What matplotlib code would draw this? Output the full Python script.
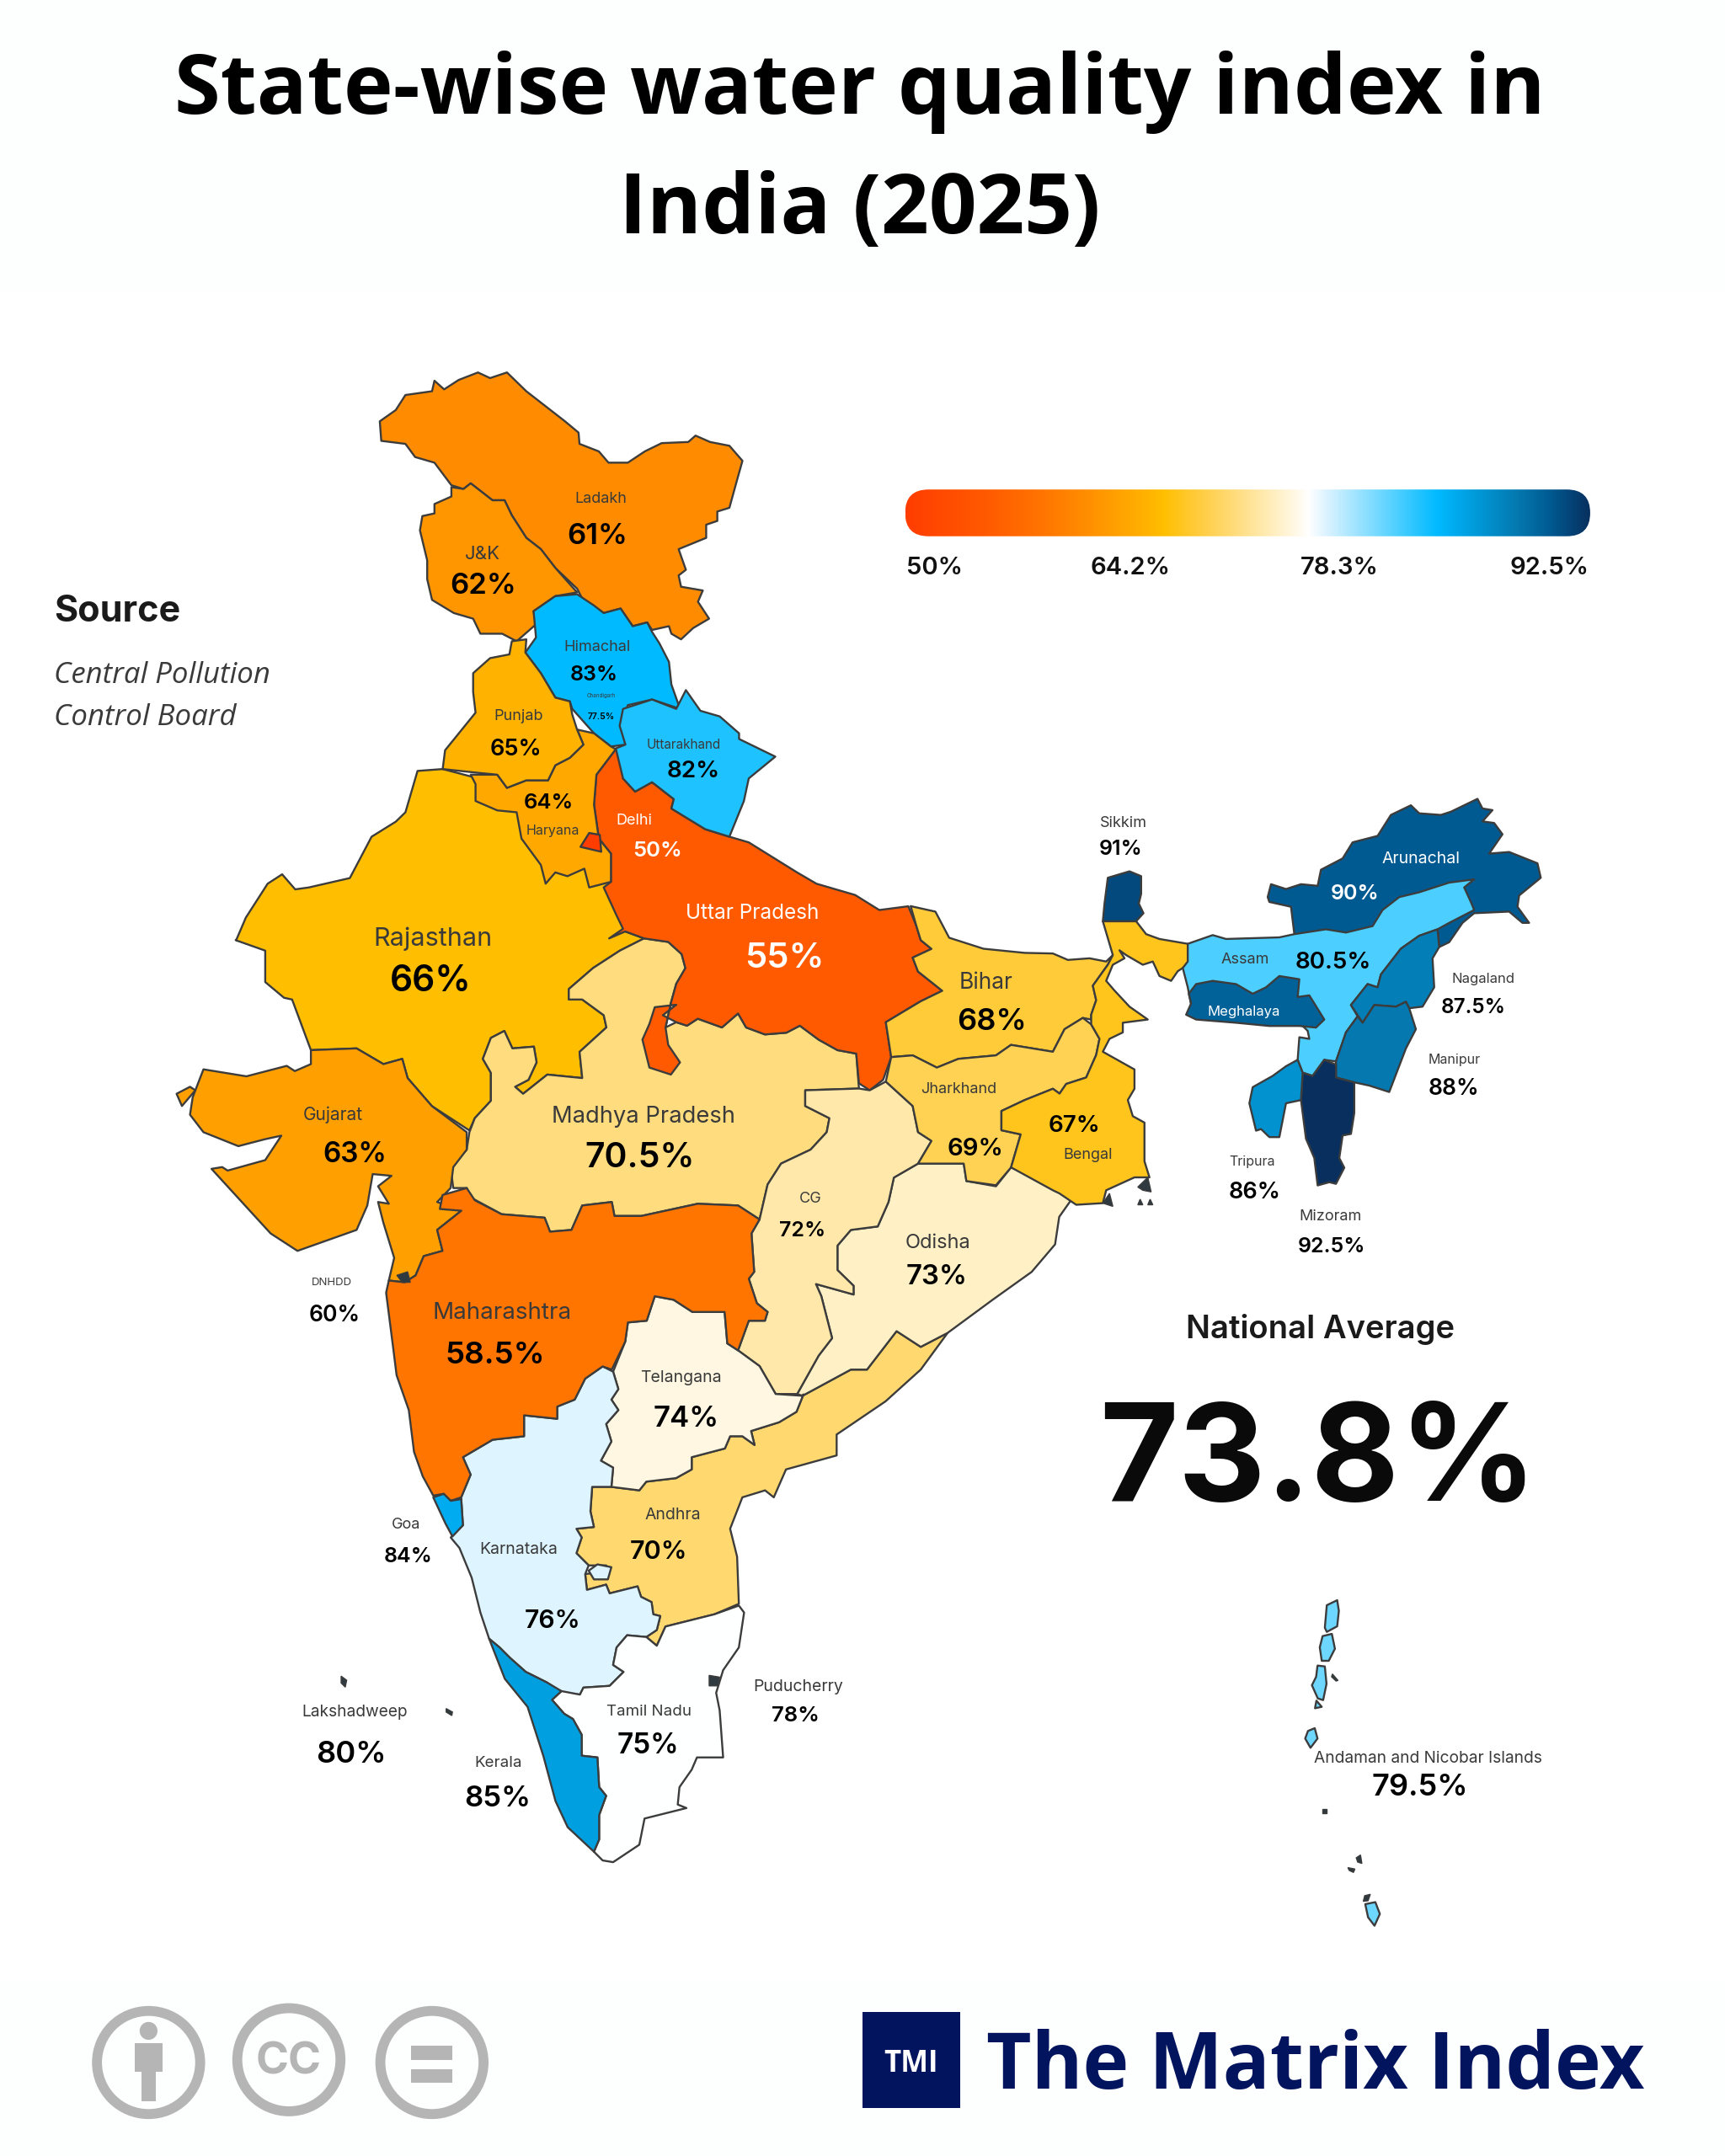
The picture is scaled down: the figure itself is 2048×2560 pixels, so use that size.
import matplotlib
matplotlib.use('Agg')
import matplotlib.pyplot as plt
import numpy as np
from matplotlib.colors import LinearSegmentedColormap, Normalize
from matplotlib.patches import Polygon, Circle, Rectangle, FancyBboxPatch

# values printed on the map
NAMES = ['Ladakh', 'J&K', 'Himachal', 'Chandigarh', 'Punjab', 'Uttarakhand', 'Haryana', 'Delhi',
         'Uttar Pradesh', 'Rajasthan', 'Bihar', 'Jharkhand', 'Bengal', 'Gujarat', 'Madhya Pradesh',
         'CG', 'Odisha', 'DNHDD', 'Maharashtra', 'Telangana', 'Andhra', 'Goa', 'Karnataka',
         'Lakshadweep', 'Tamil Nadu', 'Kerala', 'Puducherry', 'Sikkim', 'Arunachal', 'Assam',
         'Meghalaya', 'Nagaland', 'Manipur', 'Tripura', 'Mizoram', 'Andaman and Nicobar Islands']
VALUES = [61, 62, 83, 77.5, 65, 82, 64, 50, 55, 66, 68, 69, 67, 63, 70.5, 72, 73, 60, 58.5, 74, 70,
          84, 76, 80, 75, 85, 78, 91, 90, 80.5, 89.5, 87.5, 88, 86, 92.5, 79.5]
SCALE_TICKS = [50, 64.2, 78.3, 92.5]
NATIONAL_AVERAGE = 73.8

# legend ramp
RAMP_VALUES = [50, 55, 58.5, 61, 63, 65, 66, 68, 70, 72, 74, 75, 76, 80.5, 83, 85, 88, 90, 92.5]
RAMP_COLORS = ['#FF3D00', '#FF5A00', '#FF7500', '#FF8C00', '#FFA000', '#FFB300', '#FFBF00', '#FFCB3A',
               '#FFD970', '#FFE8A8', '#FFF7E0', '#FFFFFF', '#DFF4FF', '#4DCFFF', '#00BAFF', '#009FE0',
               '#0478AF', '#005A92', '#082F5E']


# outlines were traced on crops, each crop has its own frame
def z1(pts):
    return [(122.5 + .3515 * x, 257.2 + .2734 * y) for x, y in pts]

def z2(pts):
    return [(122.5 + .3906 * x, 673.6 + .2539 * y) for x, y in pts]

def z3(pts):
    return [(765.4 + .2421 * x, 563.4 + .2343 * y) for x, y in pts]

def z4(pts):
    return [(275.6 + .2539 * x, 979.8 + .2539 * y) for x, y in pts]

def z7(pts):
    return [(918.6 + .2041 * x, 1145 + .2041 * y) for x, y in pts]


# painter's order: later states sit on top of earlier ones
SHAPES = {}
SHAPES['Rajasthan'] = [z1([(567, 1105), (515, 1110), (490, 1220), (470, 1245), (420, 1285), (375, 1395), (290, 1420),
                           (262, 1425), (235, 1385), (205, 1410), (160, 1500), (140, 1560)]) +
                       z2([(125, 40), (180, 70), (180, 160), (215, 205), (230, 210), (265, 355), (350, 350), (400, 395),
                           (435, 380), (445, 435), (490, 515), (560, 585), (570, 550), (600, 500), (600, 420), (585, 380),
                           (600, 320), (625, 300), (640, 350), (680, 345), (685, 390), (670, 440), (645, 460), (660, 480),
                           (705, 425), (770, 435), (765, 360), (815, 290), (810, 255), (770, 210), (745, 210), (745, 180),
                           (790, 120), (840, 70), (885, 35), (850, 15)]) +
                       z1([(915, 1405), (800, 1300), (700, 1150)])]
SHAPES['Madhya Pradesh'] = [z2([(560, 590), (570, 550), (600, 500), (600, 420), (585, 380), (600, 320), (625, 300), (640, 350),
                                (680, 345), (685, 390), (670, 440), (645, 460), (660, 480), (705, 425), (770, 435), (765, 360),
                                (815, 290), (810, 255), (770, 210), (745, 210), (745, 180), (790, 120), (840, 70), (885, 35),
                                (930, 45), (955, 80), (962, 120), (945, 165), (935, 220), (925, 290), (945, 275), (965, 285),
                                (985, 265), (1030, 290), (1060, 250), (1075, 290), (1110, 310), (1150, 305), (1175, 285),
                                (1210, 325), (1245, 355), (1280, 365), (1285, 465), (1185, 470), (1185, 515), (1230, 550),
                                (1225, 590), (1195, 640), (1140, 680), (1115, 740), (1100, 840), (1060, 800), (985, 795),
                                (940, 810), (880, 830), (830, 830), (825, 790), (770, 800), (750, 870), (710, 875), (700, 835),
                                (620, 825), (560, 775), (555, 750), (530, 750), (525, 690), (555, 640)])]
SHAPES['Uttar Pradesh'] = [z1([(925, 1052), (950, 1080), (940, 1130), (965, 1165), (1000, 1140), (1045, 1185), (1040, 1210),
                               (1110, 1265), (1160, 1285), (1200, 1300), (1300, 1380), (1340, 1410), (1420, 1440), (1470, 1480),
                               (1530, 1470)]) +
                           z2([(1392, 0), (1400, 40), (1420, 65), (1385, 90), (1395, 130), (1440, 185), (1400, 215), (1335, 275),
                               (1345, 375), (1330, 440), (1305, 470), (1285, 450), (1280, 365), (1245, 355), (1210, 325),
                               (1175, 285), (1150, 305), (1110, 310), (1075, 290), (1060, 250), (1030, 290), (985, 265),
                               (965, 285), (945, 275), (920, 255), (945, 225), (905, 232), (895, 280), (882, 325), (895, 405),
                               (935, 425), (952, 390), (930, 340), (925, 290), (935, 220), (945, 165), (962, 120), (955, 80),
                               (930, 45), (885, 35), (850, 15), (820, 35)]) +
                           z1([(940, 1530), (925, 1490), (900, 1420), (915, 1405), (915, 1330), (890, 1290), (880, 1200), (885, 1120)])]
SHAPES['Ladakh'] = [z1([(437, 180), (470, 150), (490, 110), (545, 100), (550, 72), (570, 95), (600, 70), (640, 50), (665, 65),
                        (700, 50), (740, 100), (790, 150), (820, 180), (848, 210), (850, 240), (890, 260), (910, 290), (950, 290),
                        (985, 260), (1020, 238), (1075, 235), (1090, 218), (1120, 235), (1160, 245), (1187, 285), (1175, 340),
                        (1160, 410), (1135, 420), (1135, 445), (1112, 455), (1112, 490), (1055, 520), (1070, 575), (1055, 590),
                        (1060, 620), (1105, 630), (1095, 660), (1118, 705), (1085, 730), (1060, 760), (1040, 745), (1035, 725),
                        (1000, 735), (990, 715), (960, 725), (935, 678), (900, 690), (855, 650), (845, 625), (800, 570), (770, 520),
                        (740, 490), (710, 430), (695, 390), (670, 390), (625, 345), (610, 360), (585, 350), (550, 290), (510, 275),
                        (490, 240), (440, 232)])]
SHAPES['J&K'] = [z1([(585, 355), (610, 360), (625, 345), (670, 390), (695, 390), (710, 430), (740, 490), (770, 520), (800, 570),
                     (845, 635), (800, 645), (755, 685), (760, 720), (720, 765), (690, 745), (645, 745), (630, 705), (590, 690),
                     (545, 655), (535, 600), (535, 550), (520, 470), (525, 432), (550, 425), (550, 400), (585, 380)])]
SHAPES['Himachal'] = [z1([(755, 685), (800, 645), (845, 640), (880, 670), (900, 690), (935, 678), (960, 725), (990, 715), (1000, 740),
                          (1015, 770), (1035, 820), (1040, 880), (1058, 945), (1000, 920), (950, 935), (935, 990), (945, 1040),
                          (915, 1045), (880, 1010), (835, 945), (830, 925), (800, 915), (770, 850), (738, 795), (760, 755)])]
SHAPES['Uttarakhand'] = [z1([(940, 945), (1000, 920), (1050, 945), (1070, 895), (1100, 950), (1140, 965), (1180, 1010), (1180, 1025),
                             (1255, 1072), (1200, 1130), (1190, 1190), (1160, 1285), (1110, 1265), (1040, 1210), (1045, 1185),
                             (1000, 1140), (965, 1165), (940, 1130), (925, 1050), (945, 1040), (933, 990)])]
SHAPES['Haryana'] = [z1([(625, 1120), (680, 1120), (700, 1155), (740, 1135), (785, 1135), (800, 1095), (830, 1075), (858, 1040),
                         (845, 1000), (880, 1010), (915, 1045), (925, 1052), (885, 1120), (880, 1200), (890, 1290), (915, 1330),
                         (915, 1405), (870, 1420), (860, 1370), (825, 1390), (800, 1380), (780, 1410), (770, 1360), (730, 1290),
                         (720, 1220), (680, 1215), (635, 1190), (635, 1145)])]
SHAPES['Punjab'] = [z1([(710, 765), (740, 760), (738, 795), (770, 850), (800, 915), (830, 925), (835, 960), (845, 1000), (858, 1040),
                        (830, 1075), (800, 1095), (785, 1135), (740, 1135), (700, 1155), (680, 1120), (640, 1115), (567, 1105),
                        (572, 1055), (635, 955), (630, 900), (630, 850), (665, 810), (705, 800)])]
SHAPES['Delhi'] = [z1([(870, 1275), (892, 1280), (895, 1325), (852, 1312)])]
SHAPES['Gujarat'] = [z2([(265, 355), (350, 350), (400, 395), (435, 380), (445, 435), (490, 515), (555, 590), (555, 640), (530, 690),
                         (525, 750), (500, 790), (545, 815), (500, 870), (510, 930), (475, 945), (460, 1000), (440, 1020), (410, 1015),
                         (420, 950), (400, 850), (390, 790), (410, 795), (390, 745), (415, 715), (380, 710), (370, 800), (350, 870),
                         (240, 930), (190, 880), (80, 695), (100, 690), (110, 700), (180, 670), (210, 600), (180, 610), (130, 630),
                         (65, 590), (40, 540), (45, 490), (65, 410), (145, 430), (220, 400), (235, 415), (265, 395)]),
                     z2([(15, 480), (40, 460), (50, 470), (25, 515)])]
SHAPES['Andhra'] = [z4([(610, 400), (665, 400), (745, 410), (765, 385), (850, 375), (895, 350), (895, 315), (990, 290), (1005, 255),
                        (1040, 255), (1075, 280), (1065, 240), (1145, 215), (1195, 185), (1215, 135)]) +
                    z2([(1180, 1345), (1270, 1270), (1300, 1270), (1355, 1160), (1400, 1205), (1450, 1165), (1400, 1270)]) +
                    z4([(1450, 155), (1310, 250), (1310, 310), (1165, 350), (1130, 430), (1105, 410), (1040, 430), (1005, 520),
                        (1025, 600), (1030, 735), (960, 765), (920, 775), (820, 800), (795, 855), (765, 830), (795, 810), (805, 770),
                        (785, 765), (780, 730), (750, 715), (740, 685), (660, 705), (650, 680), (595, 695), (590, 650), (660, 640),
                        (650, 625), (600, 625), (565, 590), (580, 545), (565, 520), (615, 515), (605, 470)])]
SHAPES['Odisha'] = [z2([(1395, 680), (1480, 680), (1485, 730), (1540, 745)]) +
                    [(735, 849), (760, 860), (782, 868), (770, 885), (767, 905), (750, 925), (722, 945)] +
                    z2([(1450, 1165), (1400, 1205), (1355, 1160), (1300, 1270), (1270, 1270), (1180, 1345), (1170, 1340), (1210, 1230),
                        (1235, 1180), (1215, 1060), (1205, 1025), (1275, 1055), (1275, 1030), (1245, 985), (1245, 915), (1270, 870),
                        (1320, 860), (1340, 790), (1350, 720)])]
SHAPES['CG'] = [z2([(1185, 470), (1285, 465), (1305, 470), (1335, 445), (1385, 515), (1395, 590), (1420, 615), (1395, 680), (1350, 720),
                    (1340, 790), (1320, 860), (1270, 870), (1245, 915), (1245, 985), (1275, 1030), (1275, 1055), (1205, 1025),
                    (1215, 1060), (1235, 1180), (1210, 1230), (1170, 1340), (1130, 1340), (1100, 1260), (1060, 1215), (1080, 1130),
                    (1110, 1130), (1115, 1105), (1095, 1080), (1080, 1010), (1090, 990), (1085, 880), (1100, 840), (1115, 740),
                    (1140, 680), (1195, 640), (1225, 590), (1230, 550), (1185, 515)])]
SHAPES['Telangana'] = [z2([(905, 1060), (940, 1070), (975, 1105), (1035, 1105), (1040, 1195), (1060, 1215), (1100, 1260), (1130, 1340),
                           (1180, 1345)]) +
                       z4([(1215, 135), (1195, 185), (1145, 215), (1065, 240), (1075, 280), (1040, 255), (1005, 255), (990, 290),
                           (895, 315), (895, 350), (850, 375), (765, 385), (745, 410), (665, 400), (670, 345), (635, 325), (665, 270),
                           (650, 220), (685, 180), (665, 150), (685, 120), (670, 70)]) +
                       z2([(850, 1190), (855, 1135), (890, 1130)])]
SHAPES['Karnataka'] = [z4([(240, 315), (325, 265), (415, 255), (415, 195), (510, 205), (510, 170), (560, 150), (590, 90), (640, 55),
                           (670, 70), (685, 120), (665, 150), (685, 180), (650, 220), (665, 270), (635, 325), (670, 345), (665, 400),
                           (610, 400), (605, 470), (615, 515), (565, 520), (580, 545), (565, 590), (600, 625), (590, 650), (595, 695),
                           (650, 680), (660, 705), (740, 685), (750, 715), (780, 730), (785, 765), (805, 770), (795, 810), (765, 830),
                           (710, 825), (680, 860), (670, 910), (700, 930), (660, 970), (585, 975), (575, 995), (525, 990), (480, 960),
                           (420, 930), (375, 890), (345, 860), (315, 835), (290, 760), (265, 660), (230, 575), (205, 545), (240, 510),
                           (235, 430), (262, 365)]),
                       z4([(600, 640), (625, 622), (665, 630), (655, 665), (615, 665)])]
SHAPES['Maharashtra'] = [z2([(510, 770), (555, 750), (570, 785), (620, 825), (700, 835), (710, 875), (750, 870), (770, 800), (825, 790),
                             (830, 830), (880, 830), (940, 810), (985, 795), (1060, 800), (1100, 840), (1085, 880), (1090, 990),
                             (1080, 1010), (1095, 1080), (1115, 1105), (1110, 1130), (1080, 1130), (1060, 1215), (1040, 1195),
                             (1035, 1105), (975, 1105), (940, 1070), (905, 1060), (890, 1130), (855, 1135), (850, 1190), (825, 1270)]) +
                         z4([(640, 55), (590, 90), (560, 150), (510, 170), (510, 205), (415, 195), (415, 255), (325, 265), (240, 315),
                             (262, 365), (235, 430), (205, 440), (185, 420), (155, 425), (125, 370), (100, 300), (85, 180), (50, 80),
                             (40, 0)]) +
                         z2([(405, 1050), (410, 1015), (440, 1020), (460, 1000), (475, 945), (510, 930), (500, 870), (545, 815), (505, 810)])]
SHAPES['Goa'] = [z4([(155, 430), (185, 420), (205, 440), (235, 435), (240, 510), (210, 542), (190, 505)])]
SHAPES['Tamil Nadu'] = [z4([(495, 1010), (522, 985), (575, 995), (585, 975), (660, 970), (700, 930), (670, 910), (680, 860), (710, 825),
                            (765, 830), (795, 855), (820, 800), (920, 775), (960, 765), (1030, 740), (1045, 760), (1030, 860), (985, 925),
                            (965, 990), (975, 1040), (985, 1175), (910, 1175), (895, 1210), (860, 1260), (855, 1310), (880, 1320),
                            (760, 1350), (745, 1425), (670, 1475), (640, 1470), (615, 1445), (630, 1410), (630, 1340), (650, 1285),
                            (630, 1260), (625, 1175), (580, 1170), (580, 1110), (555, 1065), (530, 1050)])]
SHAPES['Kerala'] = [z4([(315, 835), (345, 860), (375, 890), (420, 930), (480, 960), (522, 985), (495, 1010), (530, 1050), (555, 1065),
                        (580, 1110), (580, 1170), (625, 1175), (630, 1260), (650, 1285), (630, 1340), (630, 1410), (615, 1445),
                        (540, 1375), (505, 1300), (470, 1170), (425, 1030), (360, 950)])]
SHAPES['Bihar'] = [z2([(1335, 275), (1400, 215), (1440, 185), (1395, 130), (1385, 90), (1420, 65), (1400, 40), (1392, 0)]) +
                   [(662, 659), (680, 663), (690, 682), (715, 690), (745, 693)] +
                   z3([(0, 555), (45, 575), (110, 570), (160, 580), (180, 560), (165, 590), (120, 655), (130, 700), (115, 745),
                       (115, 760), (90, 755), (35, 790), (15, 830), (0, 860)]) +
                   z2([(1568, 340), (1540, 370), (1470, 380), (1430, 405), (1385, 370), (1345, 375)])]
SHAPES['Jharkhand'] = [z2([(1345, 375), (1385, 370), (1430, 405), (1470, 380), (1540, 370), (1568, 340)]) +
                       z3([(0, 860), (15, 830), (35, 790), (90, 755), (115, 775), (140, 820), (130, 870), (100, 940), (40, 960),
                           (20, 990), (0, 975)]) +
                       [(745, 800), (728, 808), (728, 822), (742, 825), (735, 849), (724, 862)] +
                       z2([(1485, 730), (1480, 680), (1395, 680), (1420, 615), (1395, 590), (1385, 515), (1335, 445)])]
SHAPES['Bengal'] = [z3([(150, 455), (250, 455), (280, 495), (320, 510), (405, 525), (405, 590), (375, 610), (355, 640), (320, 625),
                        (300, 580), (270, 590), (220, 560), (200, 545), (215, 570), (180, 590), (160, 640), (185, 670), (230, 720),
                        (285, 760), (210, 770), (210, 800), (170, 820), (150, 860), (245, 915), (245, 975), (225, 1010), (240, 1060),
                        (275, 1080), (275, 1200), (290, 1250), (245, 1250), (160, 1290), (150, 1330), (70, 1335), (20, 1300), (0, 1290)]) +
                    [(735, 849), (742, 825), (728, 822), (728, 808), (745, 800)] +
                    z3([(0, 975), (20, 990), (40, 960), (100, 940), (130, 870), (140, 820), (115, 775), (115, 745), (130, 700),
                        (120, 655), (165, 590), (180, 560)])]
SHAPES['Sikkim'] = [z3([(165, 320), (230, 300), (265, 315), (265, 370), (258, 400), (272, 430), (250, 455), (150, 455), (155, 400)])]
SHAPES['Arunachal'] = [z3([(645, 380), (655, 340), (700, 355), (745, 340), (795, 345), (805, 295), (870, 260), (900, 210), (975, 190),
                           (1015, 125), (1075, 95), (1100, 120), (1165, 125), (1195, 115), (1275, 75), (1290, 105), (1320, 110),
                           (1290, 145), (1325, 150), (1350, 185), (1310, 245), (1370, 240), (1455, 275), (1465, 320), (1400, 375),
                           (1395, 410), (1430, 460), (1410, 460), (1370, 425), (1265, 430), (1230, 460), (1190, 520), (1160, 535),
                           (1155, 480), (1100, 500), (1000, 500), (725, 495), (715, 410), (650, 395)])]
SHAPES['Assam'] = [z3([(405, 525), (480, 498), (520, 510), (680, 505), (725, 495), (820, 480), (880, 490), (960, 470), (990, 420),
                       (1040, 380), (1100, 365), (1190, 335), (1265, 325), (1235, 350), (1255, 395), (1265, 420), (1190, 460), (1155, 480),
                       (1100, 500), (1045, 540), (985, 620), (975, 660), (945, 650), (895, 715), (915, 750), (880, 800), (850, 890),
                       (815, 885), (780, 935), (750, 925), (735, 885), (740, 815), (770, 820), (765, 795), (740, 770), (420, 740),
                       (405, 660), (390, 600), (405, 580)])]
SHAPES['Meghalaya'] = [z3([(400, 745), (415, 710), (408, 680), (430, 650), (480, 640), (550, 650), (600, 680), (640, 660), (680, 625),
                           (740, 635), (735, 690), (770, 685), (815, 760), (790, 785), (740, 780), (650, 780), (550, 770), (430, 760)])]
SHAPES['Nagaland'] = [z3([(895, 715), (945, 650), (975, 660), (985, 620), (1045, 540), (1100, 500), (1155, 480), (1160, 535), (1140, 570),
                          (1145, 660), (1110, 720), (1070, 725), (1060, 705), (1030, 720), (965, 715), (930, 770)])]
SHAPES['Manipur'] = [z3([(930, 770), (965, 715), (1030, 720), (1060, 705), (1070, 725), (1090, 790), (1060, 850), (1010, 985), (950, 965),
                         (905, 955), (850, 940), (850, 890), (880, 800), (915, 750)])]
SHAPES['Mizoram'] = [z3([(750, 925), (780, 935), (815, 885), (850, 900), (850, 940), (905, 955), (905, 1050), (895, 1115), (870, 1120),
                         (860, 1190), (875, 1220), (850, 1270), (830, 1265), (795, 1275), (785, 1190), (760, 1130), (745, 1010)])]
SHAPES['Tripura'] = [z3([(735, 885), (750, 925), (745, 1010), (700, 1020), (680, 1125), (650, 1125), (625, 1100), (610, 1105), (590, 1020),
                         (600, 970), (660, 935), (700, 905)])]
SHAPES['Andaman and Nicobar Islands'] = [
    z7([(225, 110), (262, 92), (268, 130), (262, 185), (225, 205), (218, 190)]),
    z7([(210, 220), (243, 212), (254, 265), (232, 308), (207, 308), (200, 260)]),
    z7([(192, 325), (218, 328), (224, 390), (212, 448), (193, 442), (172, 395), (187, 365)]),
    z7([(188, 450), (207, 472), (183, 477)]),
    z7([(158, 558), (182, 548), (192, 585), (167, 618), (148, 585)]),
    z7([(362, 1175), (398, 1168), (414, 1210), (395, 1252), (372, 1222)]),
]

# tiny bits that are nearly all outline
SPECKS = [z4([(945, 940), (975, 945), (970, 970), (945, 970)]), z4([(192, 1035), (210, 1045), (208, 1055), (192, 1045)]),
          [(248, 1219), (252, 1222), (251, 1227), (248, 1224)], z7([(245, 355), (265, 378), (258, 380), (242, 365)]),
          z7([(300, 1045), (325, 1050), (320, 1062), (305, 1055)]), z7([(330, 1010), (345, 1000), (350, 1030), (335, 1025)]),
          z7([(360, 1145), (380, 1140), (372, 1163), (355, 1165)]), z7([(208, 835), (225, 835), (225, 852), (208, 852)]),
          z3([(255, 1335), (262, 1318), (270, 1335)]), z3([(285, 1335), (292, 1318), (300, 1335)]),
          z3([(150, 1330), (170, 1300), (180, 1340)]), z3([(255, 1280), (285, 1250), (295, 1295), (270, 1290)]),
          z2([(425, 1000), (445, 990), (450, 1020), (435, 1020)])]

# name position, value position, name size, value size, text colour
LABELS = {
    'Ladakh': ((437, 361), (434, 388), 13, 25, 'k'), 'J&K': ((351, 401), (351, 424), 16, 25, 'k'),
    'Himachal': ((434, 469), (432, 489), 13, 18, 'k'), 'Chandigarh': ((437, 504), (437, 519), 4.5, 7.5, 'k'),
    'Punjab': ((377, 519), (375, 543), 13, 19.5, 'k'), 'Uttarakhand': ((497, 540), (504, 559), 11, 20, 'k'),
    'Haryana': ((402, 602), (399, 582), 11.5, 18.5, 'k'), 'Delhi': ((461, 595), (478, 617), 13, 18.5, 'w'),
    'Uttar Pradesh': ((547, 662), (570, 695), 17.5, 30, 'w'), 'Rajasthan': ((315, 681), (313, 712), 22, 30.5, 'k'),
    'Bihar': ((717, 713), (721, 741), 19, 26, 'k'), 'Jharkhand': ((697, 790), (709, 834), 13, 21, 'k'),
    'Bengal': ((791, 838), (781, 817), 13, 20, 'k'), 'Gujarat': ((242, 809), (258, 838), 15, 24, 'k'),
    'Madhya Pradesh': ((468, 810), (465, 840), 19.7, 29.5, 'k'), 'CG': ((589, 870), (583, 893), 13, 18, 'k'),
    'Odisha': ((682, 902), (681, 927), 17, 23.7, 'k'), 'DNHDD': ((241, 931), (243, 955), 9.5, 19, 'k'),
    'Maharashtra': ((365, 953), (360, 984), 20, 26.5, 'k'), 'Telangana': ((495, 1000), (499, 1030), 14, 25, 'k'),
    'Andhra': ((489, 1100), (479, 1127), 14, 22, 'k'), 'Goa': ((295, 1107), (297, 1130), 13, 18, 'k'),
    'Karnataka': ((377, 1125), (402, 1177), 14, 21.6, 'k'), 'Lakshadweep': ((258, 1243), (255, 1274), 13.8, 26, 'k'),
    'Tamil Nadu': ((472, 1243), (471, 1268), 13.5, 24, 'k'), 'Kerala': ((362, 1280), (362, 1306), 13.5, 25, 'k'),
    'Puducherry': ((580, 1225), (578, 1246), 14, 18.5, 'k'), 'Sikkim': ((817, 597), (815, 616), 13, 18, 'k'),
    'Arunachal': ((1033, 623), (985, 648), 14, 18, 'w'), 'Assam': ((905, 696), (969, 698), 13, 20, 'k'),
    'Meghalaya': ((904, 734), (892, 764), 12, 17.5, 'w'), 'Nagaland': ((1078, 710), (1071, 731), 12, 17.5, 'k'),
    'Manipur': ((1057, 769), (1057, 790), 11.5, 19, 'k'), 'Tripura': ((910, 843), (912, 865), 11.5, 19.5, 'k'),
    'Mizoram': ((967, 883), (968, 905), 13, 18, 'k'), 'Andaman and Nicobar Islands': ((1038, 1277), (1032, 1298), 13.8, 26, 'k'),
}

EDGE = '#3c3c3c'
NAVY = '#02145E'
GREY = '#B5B5B5'
HEAD_FONT = 'Open Sans'
plt.rcParams['font.family'] = ['Inter', 'DejaVu Sans']

fig = plt.figure(figsize=(20.48, 25.6), dpi=100, facecolor='#FDFEFE')
ax = fig.add_axes([0, 0, 1, 1])
ax.set_xlim(0, 1254)
ax.set_ylim(1568, 0)
ax.axis('off')
ax.add_patch(Rectangle((0, 212), 1254, 1228, fc='white', ec='none', zorder=0))

cmap = LinearSegmentedColormap.from_list('wqi', [((v - 50) / 42.5, c) for v, c in zip(RAMP_VALUES, RAMP_COLORS)], N=512)
norm = Normalize(50, 92.5)

value_of = dict(zip(NAMES, VALUES))
for z, (name, parts) in enumerate(SHAPES.items()):
    for pts in parts:
        ax.add_patch(Polygon(pts, closed=True, fc=cmap(norm(value_of[name])), ec=EDGE, lw=1.7,
                             joinstyle='round', zorder=2 + z * .01))
for pts in SPECKS:
    ax.add_patch(Polygon(pts, closed=True, fc='#2e3a40', ec=EDGE, lw=1, zorder=3))

for name, value in zip(NAMES, VALUES):
    npos, vpos, ns, vs, col = LABELS[name]
    name_col = col if col == 'w' else '#3a3a3a'
    ax.text(npos[0], npos[1] + 2, name, fontsize=ns, color=name_col, ha='center', va='center', zorder=5)
    ax.text(vpos[0], vpos[1] + 2, f'{value:g}%', fontsize=vs, color=col, ha='center', va='center',
            fontweight='semibold', zorder=5)

# scale bar
grad = np.linspace(0, 1, 512).reshape(1, -1)
im = ax.imshow(grad, cmap=cmap, extent=(658, 1156, 390, 356), aspect='auto', zorder=4)
clip = FancyBboxPatch((675, 356), 464, 34, boxstyle='round,pad=0,rounding_size=17', mutation_aspect=1,
                      fc='none', ec='none', transform=ax.transData)
clip.set_boxstyle('round,pad=17,rounding_size=17')
clip.set_bounds(675, 373, 464, 0)
ax.add_patch(clip)
im.set_clip_path(clip)
ax.set_xlim(0, 1254)
ax.set_ylim(1568, 0)
for tick, (x, ha) in zip(SCALE_TICKS, [(659, 'left'), (822, 'center'), (974, 'center'), (1155, 'right')]):
    ax.text(x, 413, f'{tick:g}%', fontsize=21, fontweight='semibold', color='#111111', ha=ha, va='center')

ax.text(625, 67, 'State-wise water quality index in', fontsize=71.6, fontweight='bold', family=HEAD_FONT,
        ha='center', va='center', color='black')
ax.text(625, 154, 'India (2025)', fontsize=71.6, fontweight='bold', family=HEAD_FONT,
        ha='center', va='center', color='black')

ax.text(39, 445, 'Source', fontsize=31, fontweight='bold', ha='left', va='center', color='#1a1a1a')
ax.text(39, 491, 'Central Pollution', fontsize=25, style='italic', family='Open Sans', ha='left', va='center', color='#3a3a3a')
ax.text(39, 522, 'Control Board', fontsize=25, style='italic', family='Open Sans', ha='left', va='center', color='#3a3a3a')

ax.text(960, 967, 'National Average', fontsize=27.5, fontweight='semibold', ha='center', va='center', color='#1a1a1a')
ax.text(958, 1066, f'{NATIONAL_AVERAGE:g}%', fontsize=116, fontweight='bold', ha='center', va='center', color='#0a0a0a')

# licence badges
for cx, cy in [(108, 1500), (210, 1498), (314, 1500)]:
    ax.add_patch(Circle((cx, cy), 37.5, fc='none', ec=GREY, lw=8.5))
ax.add_patch(Circle((108, 1477), 6.5, fc=GREY, ec='none'))
ax.add_patch(Rectangle((98, 1486), 20, 21, fc=GREY, ec='none'))
ax.add_patch(Rectangle((103, 1506), 10, 22, fc=GREY, ec='none'))
ax.text(210, 1500, 'CC', fontsize=38, fontweight='bold', color=GREY, ha='center', va='center')
ax.add_patch(Rectangle((299, 1488), 30, 10, fc=GREY, ec='none'))
ax.add_patch(Rectangle((299, 1505), 30, 10, fc=GREY, ec='none'))

# brand
ax.add_patch(Rectangle((627, 1463), 71, 70, fc=NAVY, ec='none'))
ax.text(662.5, 1501, 'TMI', fontsize=25, fontweight='bold', color='white', ha='center', va='center', family=HEAD_FONT)
ax.text(956, 1504, 'The Matrix Index', fontsize=66.7, fontweight='bold', color=NAVY, ha='center', va='center', family=HEAD_FONT)

fig.savefig('out.png', dpi=100, facecolor=fig.get_facecolor())
